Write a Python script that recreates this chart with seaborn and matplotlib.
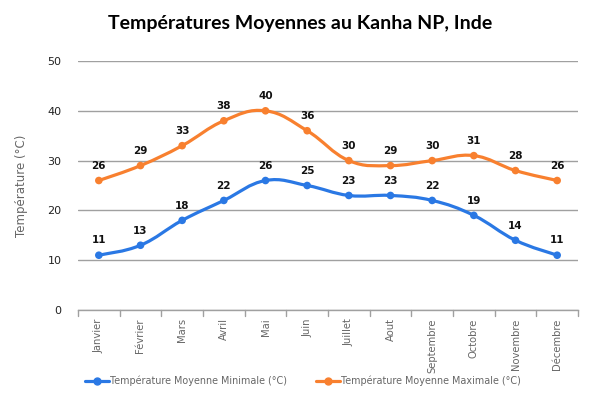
import numpy as np
import pandas as pd
import matplotlib
matplotlib.use("Agg")
import matplotlib.pyplot as plt
from matplotlib.path import Path
from matplotlib.patches import PathPatch
from matplotlib.lines import Line2D
import seaborn as sns

months = ["Janvier", "Février", "Mars", "Avril", "Mai", "Juin", "Juillet",
          "Aout", "Septembre", "Octobre", "Novembre", "Décembre"]
t_min = [11, 13, 18, 22, 26, 25, 23, 23, 22, 19, 14, 11]
t_max = [26, 29, 33, 38, 40, 36, 30, 29, 30, 31, 28, 26]
label_min = "Température Moyenne Minimale (°C)"
label_max = "Température Moyenne Maximale (°C)"
yticks = [0, 10, 20, 30, 40, 50]

BLUE = "#2a78e4"
ORANGE = "#f8802f"
GRAY = "#666666"

sns.set_theme(style="white")
plt.rcParams['font.family'] = ['DejaVu Sans']

fig = plt.figure(figsize=(6.0, 3.99), dpi=100)
ax = fig.add_axes([78/600, 1-310/399, 500/600, 249/399])

df = pd.DataFrame({"x": list(range(12)) * 2,
                   "y": t_min + t_max,
                   "serie": [label_min] * 12 + [label_max] * 12})

def smooth_path(xs, ys, t=0.2):
    verts = [(xs[0], ys[0])]
    codes = [Path.MOVETO]
    n = len(xs)
    for i in range(n - 1):
        p0 = (xs[max(i - 1, 0)], ys[max(i - 1, 0)])
        p1 = (xs[i], ys[i])
        p2 = (xs[i + 1], ys[i + 1])
        p3 = (xs[min(i + 2, n - 1)], ys[min(i + 2, n - 1)])
        c1 = (p1[0] + (p2[0] - p0[0]) * t, p1[1] + (p2[1] - p0[1]) * t)
        c2 = (p2[0] - (p3[0] - p1[0]) * t, p2[1] - (p3[1] - p1[1]) * t)
        verts += [c1, c2, p2]
        codes += [Path.CURVE4] * 3
    return Path(verts, codes)

for vals, col in [(t_min, BLUE), (t_max, ORANGE)]:
    xs = list(range(len(vals)))
    ax.add_patch(PathPatch(smooth_path(xs, vals), facecolor="none",
                           edgecolor=col, lw=2.3, zorder=3))

sns.scatterplot(data=df, x="x", y="y", hue="serie",
                palette=[BLUE, ORANGE], s=30, edgecolor="none",
                legend=False, ax=ax, zorder=4)

for vals in (t_min, t_max):
    for i, v in enumerate(vals):
        ax.annotate(str(v), (i, v), xytext=(0, 7), textcoords="offset points",
                    ha="center", va="bottom", fontsize=7.5, fontweight="bold",
                    color="#111111")

ax.set_xlim(-0.5, 11.5)
ax.set_ylim(0, 50)
ax.set_yticks(yticks)
ax.set_yticklabels([str(v) for v in yticks], fontsize=8, color="#222222")
ax.yaxis.grid(True, color="#a0a0a0", lw=1)
ax.set_axisbelow(True)
ax.tick_params(axis="y", length=0, pad=12)

ax.set_xticks(range(12))
ax.set_xticklabels(months, rotation=90, fontsize=7.2, color=GRAY, va="top")
ax.tick_params(axis="x", length=0, pad=6)
for b in np.arange(-0.5, 12, 1):
    ax.plot([b, b], [0, -1.2], color="#a0a0a0", lw=1, clip_on=False)

for s in ["top", "right", "left"]:
    ax.spines[s].set_visible(False)
ax.spines["bottom"].set_color("#a0a0a0")
ax.spines["bottom"].set_linewidth(1)

ax.set_xlabel("")
ax.set_ylabel("Température (°C)", fontsize=8.5, color=GRAY, labelpad=14)

fig.text(0.5, 1 - 23/399, "Températures Moyennes au Kanha NP, Inde",
         ha="center", va="center", fontsize=14, fontweight="bold",
         family=["Lato"], color="#000000")

handles = [Line2D([0], [0], color=BLUE, lw=2.3, marker="o", markersize=5),
           Line2D([0], [0], color=ORANGE, lw=2.3, marker="o", markersize=5)]
leg = fig.legend(handles, [label_min, label_max], loc="center",
                 bbox_to_anchor=(0.505, 1 - 381/399), ncol=2, frameon=False,
                 fontsize=6.9, handlelength=2.5, handletextpad=0.1,
                 columnspacing=3.1)
for t in leg.get_texts():
    t.set_color(GRAY)

fig.savefig("out.png", dpi=100)
